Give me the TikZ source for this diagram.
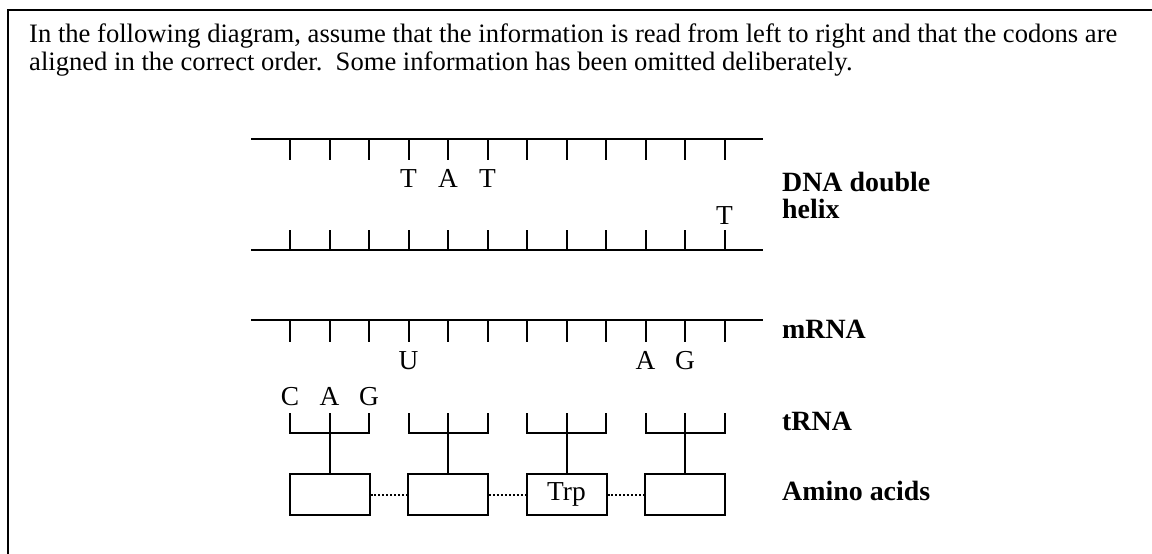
\documentclass[tikz,border=0pt]{standalone}
\usepackage{fontspec}
\setmainfont{Liberation Serif}
\usepackage{tikz}
\usetikzlibrary{positioning}

\tikzset{
    strand/.style={line width=2bp},
    base/.style={font=\fontsize{27.5}{31}\selectfont,inner sep=0pt,anchor=base},
    label/.style={font=\fontsize{28}{32}\selectfont\bfseries,inner sep=0pt,anchor=base west},
    question/.style={font=\fontsize{26.7}{30}\selectfont,inner sep=0pt,anchor=base west},
    acid/.style={draw,line width=2bp,minimum width=80bp,minimum height=41bp,inner sep=0pt,font=\fontsize{27.5}{31}\selectfont},
    chain/.style={dotted,line width=2bp}
}

\begin{document}
\begin{tikzpicture}[x=1bp,y=-1bp]

    \useasboundingbox (0,0) rectangle (1152,554);
    % frame, cut at right and bottom
    \begin{scope}
        \clip (0,0) rectangle (1152,554);
        \draw [line width=2.5bp] (8,10) rectangle (1170,580);
    \end{scope}

    \node (q1) at (29,43)[question] {In the following diagram, assume that the information is read from left to right and that the codons are};
    \node (q2) at (29,71)[question] {aligned in the correct order.\ \ Some information has been omitted deliberately.};

    % DNA
    \draw [strand] (251,139) -- (763,139);
    \draw [strand] (251,250) -- (763,250);
    \foreach \x in {290,329.5,369,408.5,448,487.5,527,566.5,606,645.5,685,724.5} {
        \draw [strand] (\x,139) -- (\x,160);
        \draw [strand] (\x,250) -- (\x,230);
    }
    \node (d1) at (408.5,188)[base] {T};
    \node (d2) at (448,188)[base] {A};
    \node (d3) at (487.5,188)[base] {T};
    \node (d4) at (724.5,225)[base] {T};
    \node (dna) at (782,192)[label] {DNA double};
    \node (helix) at (782,219)[label] {helix};

    % mRNA
    \draw [strand] (251,320) -- (763,320);
    \foreach \x in {290,329.5,369,408.5,448,487.5,527,566.5,606,645.5,685,724.5} {
        \draw [strand] (\x,320) -- (\x,342);
    }
    \node (m1) at (408.5,370)[base] {U};
    \node (m2) at (645.5,370)[base] {A};
    \node (m3) at (685,370)[base] {G};
    \node (mrna) at (782,339)[label] {mRNA};

    % tRNA
    \node (c1) at (290,405)[base] {C};
    \node (c2) at (329.5,405)[base] {A};
    \node (c3) at (369,405)[base] {G};
    \draw [strand] (290,413) |- (369,433) -- (369,413);
    \draw [strand] (408.5,413) |- (487.5,433) -- (487.5,413);
    \draw [strand] (527,413) |- (606,433) -- (606,413);
    \draw [strand] (645.5,413) |- (724.5,433) -- (724.5,413);
    \draw [strand] (329.5,413) -- (329.5,433);
    \draw [strand] (448,413) -- (448,433);
    \draw [strand] (566.5,413) -- (566.5,433);
    \draw [strand] (685,413) -- (685,433);
    \coordinate (t1) at (329.5,433);
    \coordinate (t2) at (448,433);
    \coordinate (t3) at (566.5,433);
    \coordinate (t4) at (685,433);
    \node (trna) at (782,430)[label] {tRNA};

    % amino acids
    \node (aa1) at (329.5,494.5)[acid] {};
    \node (aa2) at (448,494.5)[acid] {};
    \node (aa3) at (566.5,494.5)[acid] {Trp};
    \node (aa4) at (685,494.5)[acid] {};
    \draw [strand] (t1) -- (aa1);
    \draw [strand] (t2) -- (aa2);
    \draw [strand] (t3) -- (aa3);
    \draw [strand] (t4) -- (aa4);
    \draw [chain] (aa1) -- (aa2);
    \draw [chain] (aa2) -- (aa3);
    \draw [chain] (aa3) -- (aa4);
    \node (amino) at (782,500)[label] {Amino acids};
\end{tikzpicture}
\end{document}
